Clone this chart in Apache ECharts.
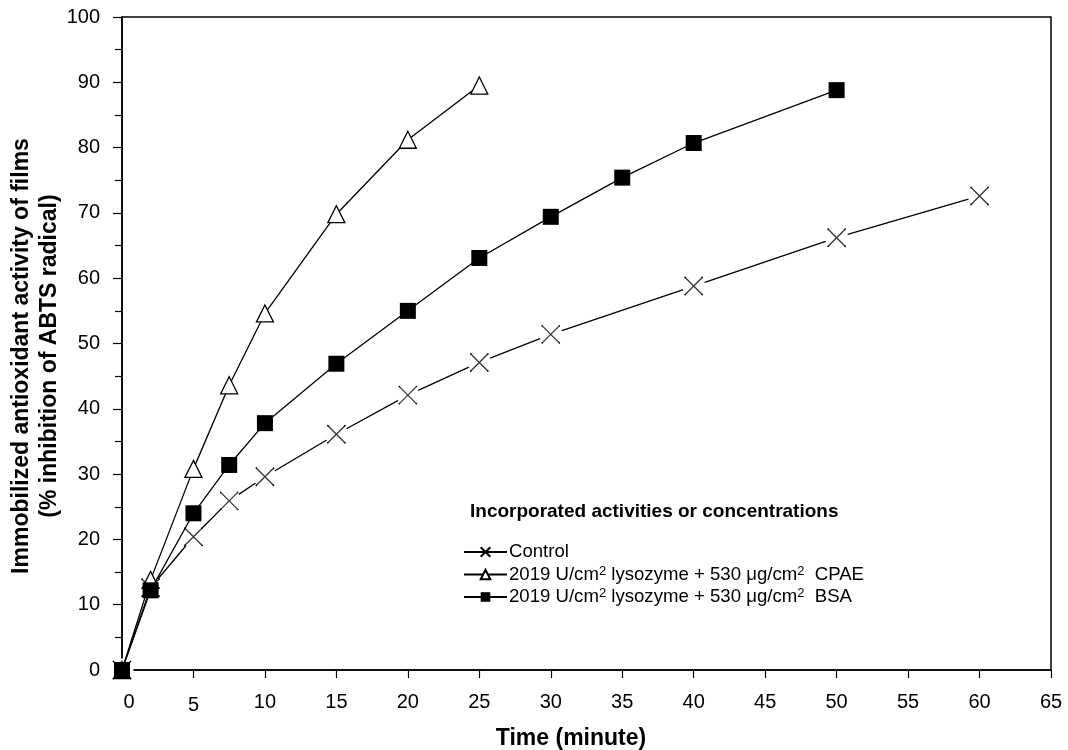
<!DOCTYPE html>
<html>
<head>
<meta charset="utf-8">
<script src="https://cdn.jsdelivr.net/npm/echarts@6/dist/echarts.min.js"></script>
<style>
html,body{margin:0;padding:0;background:#fff;}
#chart{width:1068px;height:750px;}
</style>
</head>
<body>
<div id="chart"></div>
<script>
// ---- data ----
const controlTime = [0, 2, 5, 7.5, 10, 15, 20, 25, 30, 40, 50, 60];
const controlVal  = [0, 12.6, 20.4, 25.9, 29.6, 36.1, 42.1, 47.1, 51.4, 58.8, 66.2, 72.6];
const cpaeTime = [0, 2, 5, 7.5, 10, 15, 20, 25];
const cpaeVal  = [0, 13.8, 30.8, 43.6, 54.6, 69.8, 81.2, 89.5];
const bsaTime = [0, 2, 5, 7.5, 10, 15, 20, 25, 30, 35, 40, 50];
const bsaVal  = [0, 12.2, 24.0, 31.4, 37.8, 46.9, 55.0, 63.1, 69.4, 75.4, 80.7, 88.8];
const seriesNames = ['Control', 'CPAE', 'BSA'];
const legendLabels = {
  'Control': 'Control',
  'CPAE': '2019 U/cm{s|2} lysozyme + 530 μg/cm{s|2}  CPAE',
  'BSA': '2019 U/cm{s|2} lysozyme + 530 μg/cm{s|2}  BSA'
};
const legendTitle = 'Incorporated activities or concentrations';
const xTitle = 'Time (minute)';
const yTitle = 'Immobilized antioxidant activity of films\n(% inhibition of ABTS radical)';

const pairs = (xs, ys) => xs.map((x, i) => [x, ys[i]]);
const FONT = "'Liberation Sans', Arial, sans-serif";
const X_PATH = 'path://M0,0L10,10M10,0L0,10';

const chart = echarts.init(document.getElementById('chart'), null, {renderer: 'canvas'});
chart.setOption({
  backgroundColor: '#fff',
  animation: false,
  title: {
    text: legendTitle,
    left: 470, top: 502, padding: 0,
    textStyle: {fontFamily: FONT, fontSize: 19, fontWeight: 'bold', color: '#000'}
  },
  legend: {
    data: seriesNames,
    orient: 'vertical',
    left: 463, top: 542, padding: 0,
    itemWidth: 43, itemHeight: 12, itemGap: 2.5,
    formatter: n => legendLabels[n],
    textStyle: {
      fontFamily: FONT, fontSize: 18.6, color: '#000', lineHeight: 20, padding: [0, 0, 0, -3],
      rich: { s: {fontFamily: FONT, fontSize: 13, lineHeight: 13, verticalAlign: 'top', color: '#000'} }
    }
  },
  grid: {
    left: 122, right: 17, top: 17, bottom: 80,
    show: true, borderColor: '#000', borderWidth: 1.5, backgroundColor: 'transparent'
  },
  xAxis: {
    type: 'value', min: 0, max: 65, interval: 5,
    axisLine: {show: true, onZero: false, lineStyle: {color: '#000', width: 1.5}},
    axisTick: {show: true, length: 8, lineStyle: {color: '#000', width: 1.2}},
    splitLine: {show: false},
    axisLabel: {
      margin: 22, color: '#000', fontFamily: FONT, fontSize: 20,
      formatter: v => v === 0 ? '{a|0}' : (v === 5 ? '{b|5}' : String(v)),
      rich: {
        a: {fontFamily: FONT, fontSize: 20, color: '#000', padding: [0, 0, 0, 14]},
        b: {fontFamily: FONT, fontSize: 20, color: '#000', padding: [3, 0, 0, 0]}
      }
    }
  },
  yAxis: {
    type: 'value', min: 0, max: 100, interval: 10,
    axisLine: {show: true, onZero: false, lineStyle: {color: '#000', width: 1.5}},
    axisTick: {show: true, length: 9, lineStyle: {color: '#000', width: 1.2}},
    minorTick: {show: true, splitNumber: 2, length: 7, lineStyle: {color: '#000', width: 1.2}},
    splitLine: {show: false},
    minorSplitLine: {show: false},
    axisLabel: {margin: 22, color: '#000', fontFamily: FONT, fontSize: 20}
  },
  graphic: [
    {
      type: 'text', x: 36, y: 356, rotation: Math.PI / 2,
      style: {
        text: yTitle, fill: '#000', fontFamily: FONT, fontSize: 23, fontWeight: 'bold',
        align: 'center', verticalAlign: 'middle', lineHeight: 28
      }
    },
    {
      type: 'text', x: 571, y: 739,
      style: {
        text: xTitle, fill: '#000', fontFamily: FONT, fontSize: 23, fontWeight: 'bold',
        align: 'center', verticalAlign: 'middle'
      }
    }
  ],
  series: [
    {
      name: 'Control', type: 'line', zlevel: 0, z: 2,
      data: pairs(controlTime, controlVal),
      smooth: false,
      symbol: X_PATH, symbolSize: 18, showSymbol: true,
      lineStyle: {color: '#000', width: 1.3},
      itemStyle: {color: '#000', borderColor: '#000', borderWidth: 1.3}
    },
    {
      name: 'gap', type: 'scatter', zlevel: 1, z: 3, silent: true,
      data: pairs(controlTime, controlVal),
      symbol: 'circle', symbolSize: 23,
      itemStyle: {color: '#ffffff', opacity: 1, borderWidth: 0}
    },
    {
      name: 'ControlMarks', type: 'scatter', zlevel: 1, z: 4, silent: true,
      data: pairs(controlTime, controlVal),
      symbol: X_PATH, symbolSize: 18,
      itemStyle: {color: '#000', borderColor: '#000', borderWidth: 1.3}
    },
    {
      name: 'CPAE', type: 'line', zlevel: 1, z: 5,
      data: pairs(cpaeTime, cpaeVal),
      smooth: false,
      symbol: 'triangle', symbolSize: 17, showSymbol: true,
      lineStyle: {color: '#000', width: 1.3},
      itemStyle: {color: '#fff', borderColor: '#000', borderWidth: 1.3}
    },
    {
      name: 'BSA', type: 'line', zlevel: 1, z: 6,
      data: pairs(bsaTime, bsaVal),
      smooth: false,
      symbol: 'rect', symbolSize: 16, showSymbol: true,
      lineStyle: {color: '#000', width: 1.3},
      itemStyle: {color: '#000', borderColor: '#000', borderWidth: 0}
    }
  ]
});
</script>
</body>
</html>
